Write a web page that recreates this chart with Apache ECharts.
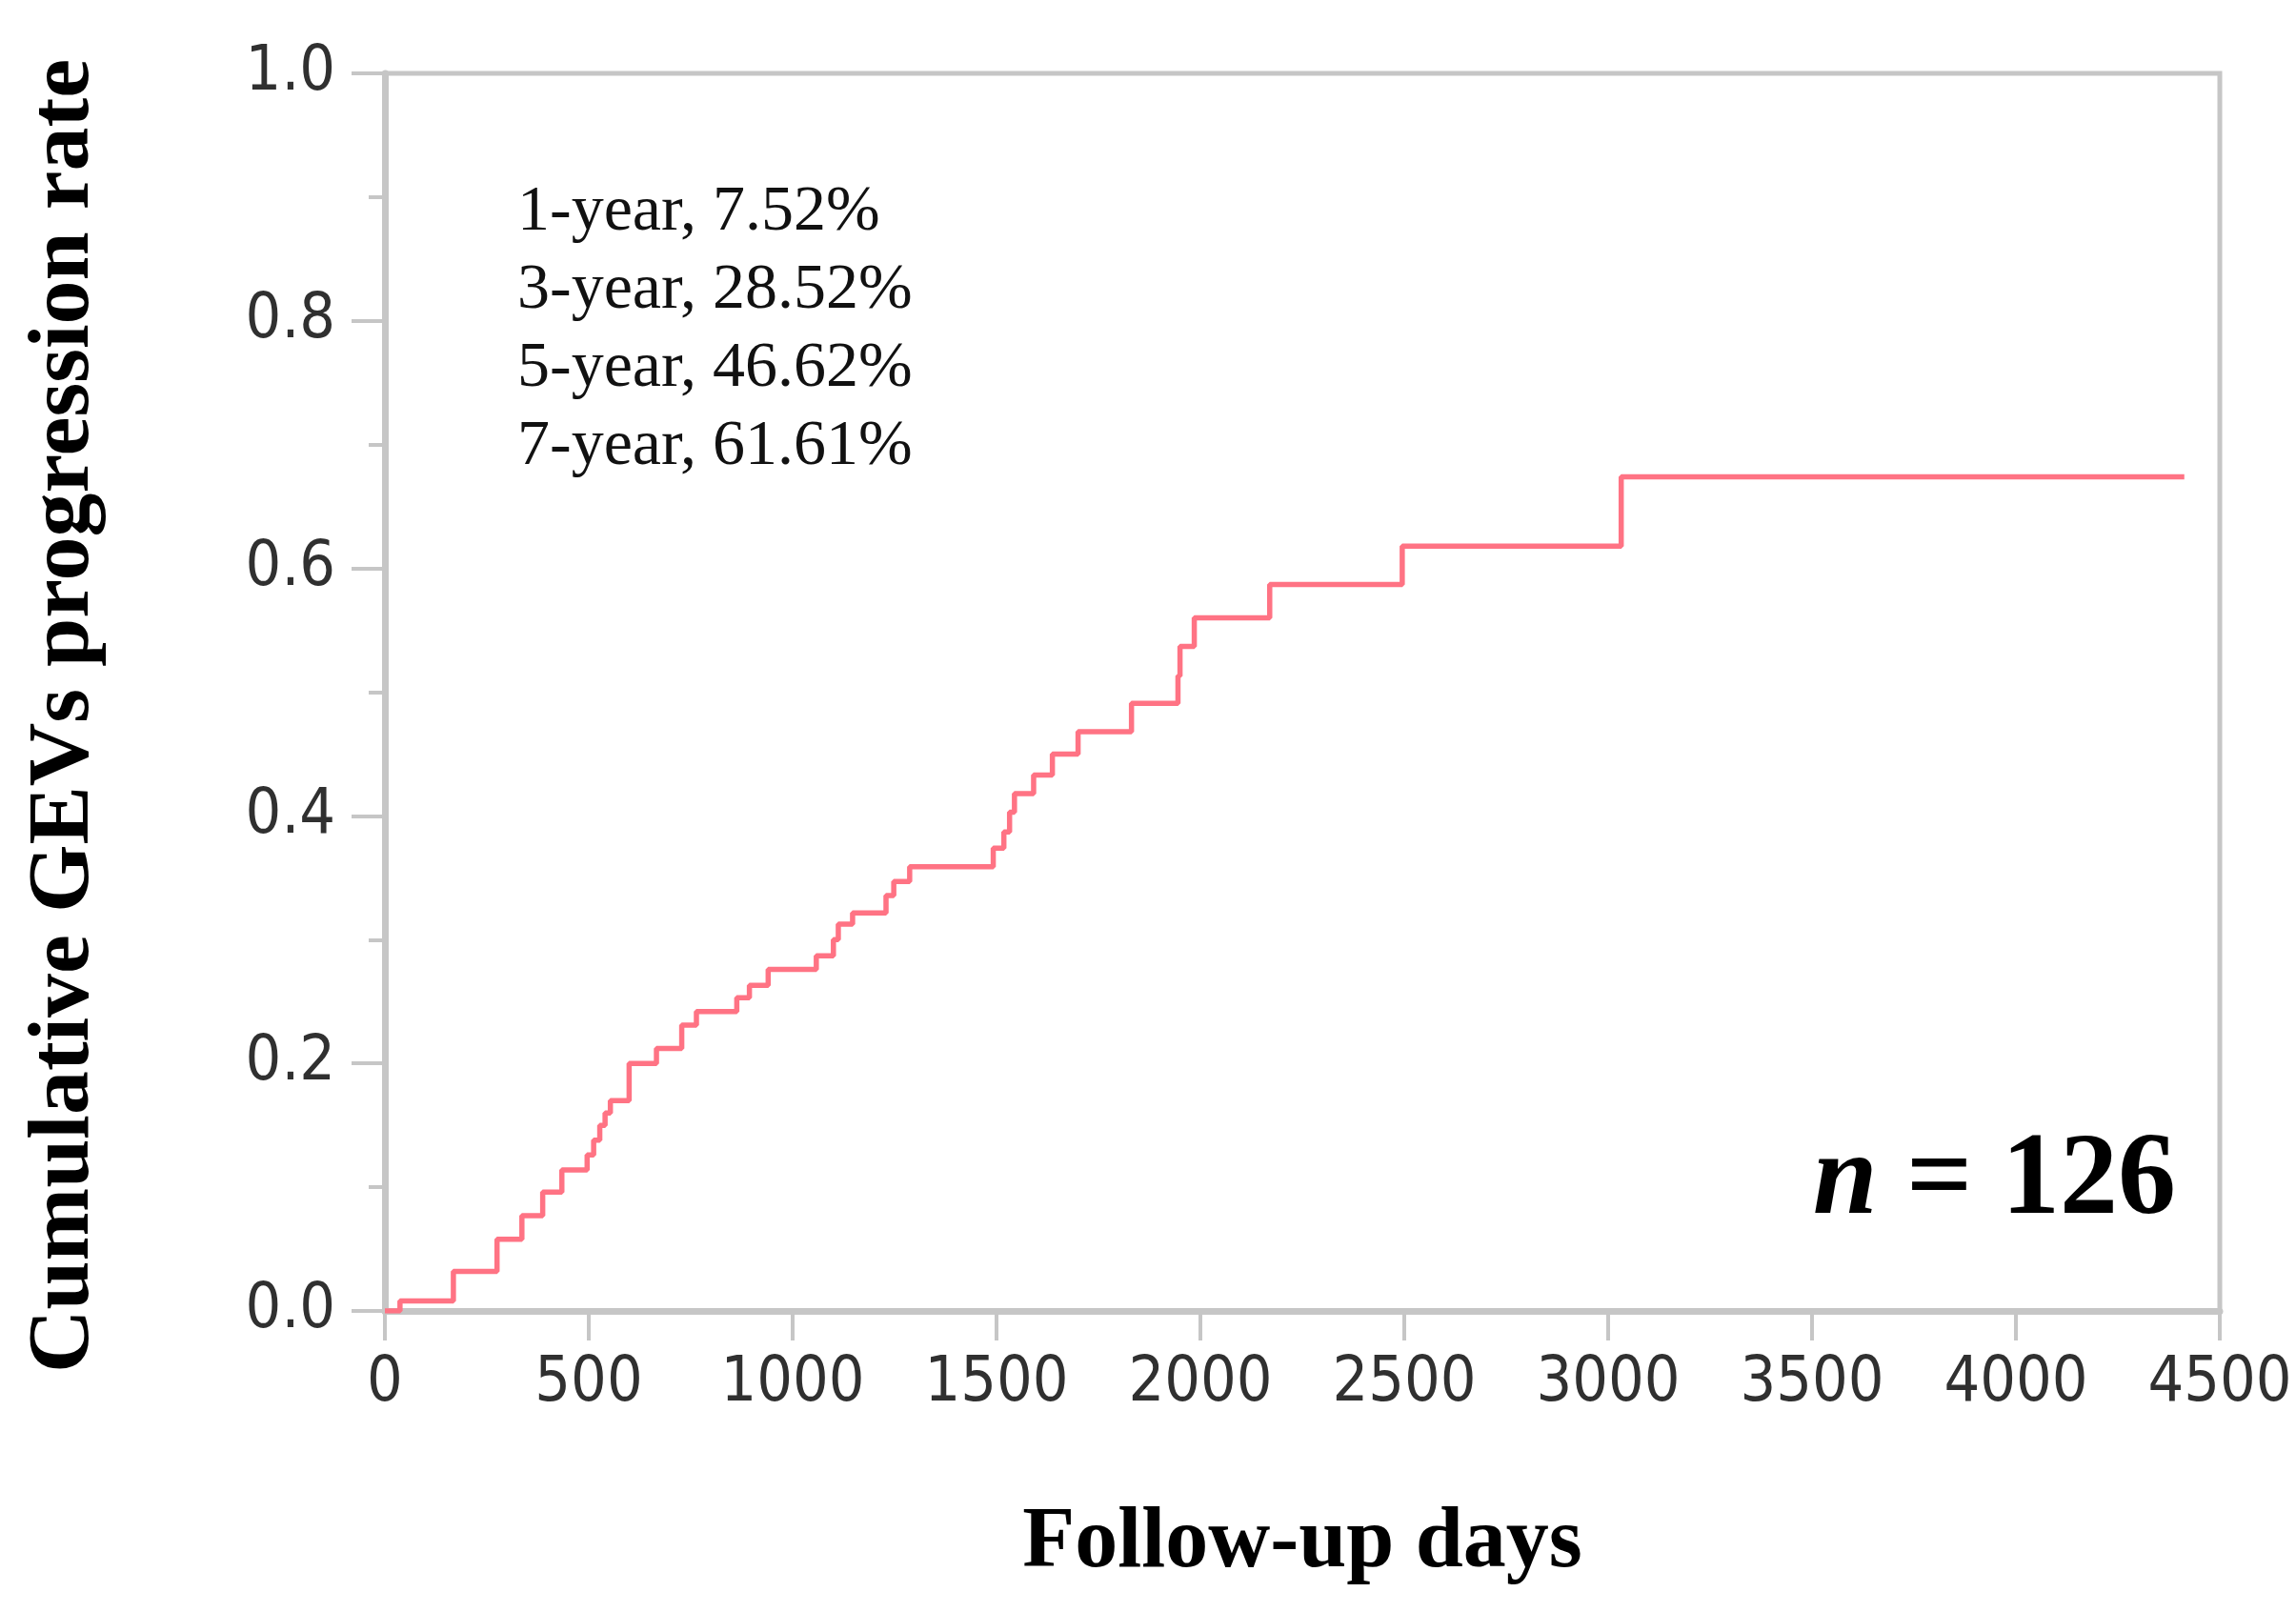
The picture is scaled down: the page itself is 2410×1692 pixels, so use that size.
<!DOCTYPE html>
<html>
<head>
<meta charset="utf-8">
<script src="https://cdn.jsdelivr.net/npm/echarts@6/dist/echarts.min.js"></script>
<style>
  html, body { margin: 0; padding: 0; background: #ffffff; }
  #chart { width: 2410px; height: 1692px; }
</style>
</head>
<body>
<div id="chart"></div>
<script>
// Step points: day at which the cumulative rate changes, and the new value
const followUpDays = [0, 37, 168, 275, 336, 387, 434, 496, 512, 527, 540, 553, 599, 666, 728, 764, 863, 894, 940,
  1058, 1100, 1112, 1147, 1229, 1248, 1287, 1492, 1518, 1532, 1544, 1591, 1637, 1700, 1831, 1945, 1950, 1985,
  2170, 2495, 3032, 4413];
const cumulativeRate = [0, 0.008, 0.032, 0.058, 0.077, 0.096, 0.114, 0.126, 0.138, 0.150, 0.160, 0.170, 0.200, 0.212, 0.231, 0.242, 0.253, 0.263, 0.276,
  0.287, 0.300, 0.3125, 0.3215, 0.3356, 0.347, 0.359, 0.374, 0.387, 0.403, 0.418, 0.433, 0.450, 0.468, 0.491, 0.513, 0.537, 0.560,
  0.587, 0.618, 0.674, 0.674];
const xTicks = [0, 500, 1000, 1500, 2000, 2500, 3000, 3500, 4000, 4500];
const yTicks = [0.0, 0.2, 0.4, 0.6, 0.8, 1.0];
const rateLines = ['1-year, 7.52%', '3-year, 28.52%', '5-year, 46.62%', '7-year, 61.61%'];
const sampleSizeText = '{i|n} = 126';

const seriesData = followUpDays.map((d, i) => [d, cumulativeRate[i]]);

const chart = echarts.init(document.getElementById('chart'), null, { renderer: 'canvas' });
const axisGray = '#c6c6c6';
const labelFont = '"DejaVu Sans Condensed", "DejaVu Sans", sans-serif';
const serif = '"Liberation Serif", "Times New Roman", serif';

const graphics = rateLines.map((t, i) => ({
  type: 'text',
  left: 543,
  top: 189 + i * 82,
  style: { text: t, fontFamily: serif, fontSize: 68, fill: '#111111' }
}));
graphics.push({
  type: 'text',
  right: 2410 - 2284,
  top: 1180,
  style: {
    text: sampleSizeText,
    fontFamily: serif, fontSize: 122, fontWeight: 'bold', fill: '#000000',
    rich: { i: { fontFamily: serif, fontSize: 122, fontWeight: 'bold', fontStyle: 'italic', fill: '#000000' } }
  }
});

chart.setOption({
  animation: false,
  backgroundColor: '#ffffff',
  grid: {
    left: 404, right: 80, top: 77, bottom: 316,
    show: true, borderColor: axisGray, borderWidth: 5, backgroundColor: 'transparent'
  },
  xAxis: {
    type: 'value',
    min: xTicks[0], max: xTicks[xTicks.length - 1], interval: 500,
    name: 'Follow-up days',
    nameLocation: 'middle',
    nameGap: 200,
    nameTextStyle: { fontFamily: serif, fontSize: 90, fontWeight: 'bold', color: '#000000' },
    axisLine: { show: true, lineStyle: { color: axisGray, width: 7 } },
    axisTick: { show: true, length: 31, lineStyle: { color: axisGray, width: 4 } },
    axisLabel: { margin: 44, fontFamily: labelFont, fontSize: 66, color: '#303030',
      formatter: v => xTicks.includes(v) ? String(v) : '' },
    splitLine: { show: false }
  },
  yAxis: {
    type: 'value',
    min: yTicks[0], max: yTicks[yTicks.length - 1], interval: 0.2,
    name: 'Cumulative GEVs progression rate',
    nameLocation: 'middle',
    nameGap: 290,
    nameTextStyle: { fontFamily: serif, fontSize: 92, fontWeight: 'bold', color: '#000000', padding: [0, 50, 0, 0] },
    axisLine: { show: true, lineStyle: { color: axisGray, width: 7 } },
    axisTick: { show: true, length: 35, lineStyle: { color: axisGray, width: 4 } },
    minorTick: { show: true, splitNumber: 2, length: 17, lineStyle: { color: axisGray, width: 4 } },
    axisLabel: { margin: 52, fontFamily: labelFont, fontSize: 66, color: '#303030',
      formatter: v => v.toFixed(1) },
    splitLine: { show: false }
  },
  series: [{
    type: 'line',
    step: 'end',
    data: seriesData,
    showSymbol: false,
    lineStyle: { color: '#ff7384', width: 5.5 },
    z: 3
  }],
  graphic: graphics
});
</script>
</body>
</html>
